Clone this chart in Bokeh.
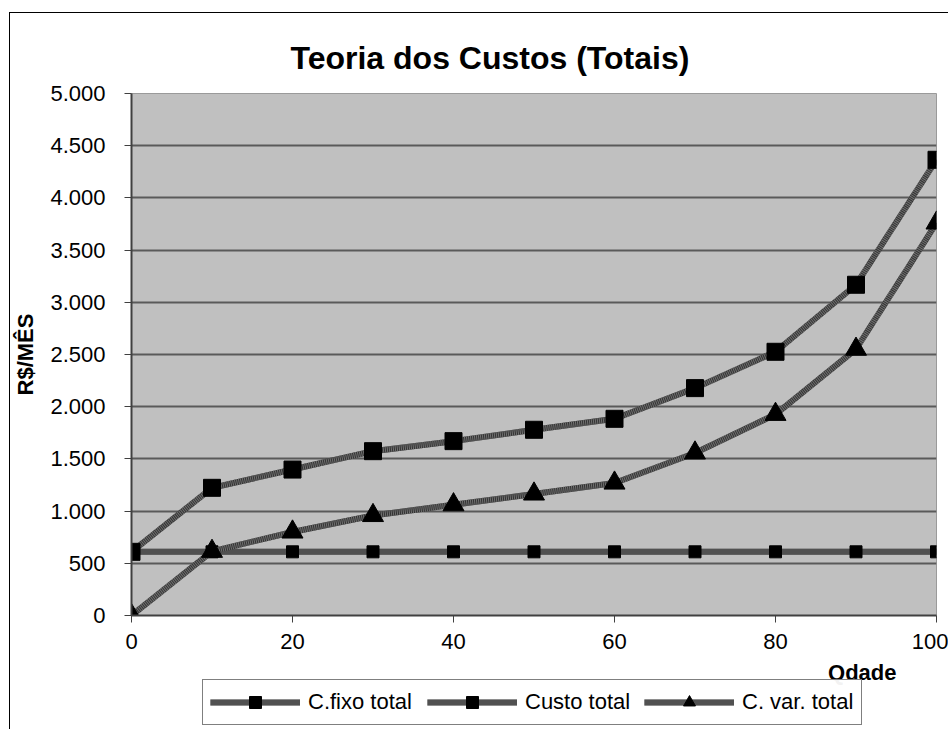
from bokeh.plotting import figure
from bokeh.layouts import column
from bokeh.models import (Legend, LegendItem, Label, FixedTicker, Range1d)
from bokeh.embed import file_html
from bokeh.resources import INLINE

# ---- data ----
qdade = [0, 10, 20, 30, 40, 50, 60, 70, 80, 90, 100]
c_fixo_total = [610, 610, 610, 610, 610, 610, 610, 610, 610, 610, 610]
custo_total = [610, 1223, 1398, 1574, 1670, 1779, 1884, 2178, 2526, 3168, 4365]
c_var_total = [0, 615, 800, 958, 1061, 1164, 1269, 1557, 1927, 2551, 3760]

x_ticks = [0, 20, 40, 60, 80, 100]
y_ticks = [0, 500, 1000, 1500, 2000, 2500, 3000, 3500, 4000, 4500, 5000]
y_tick_labels = ["0", "500", "1.000", "1.500", "2.000", "2.500", "3.000",
                 "3.500", "4.000", "4.500", "5.000"]

title_text = "Teoria dos Custos (Totais)"
y_title = "R$/MÊS"
x_title = "Qdade"
series_names = ["C.fixo total", "Custo total", "C. var. total"]

FONT = "Liberation Sans"
W = 938

# ---------------- main chart ----------------
p = figure(width=W, height=645, output_backend="svg", toolbar_location=None,
           x_range=Range1d(0, 100), y_range=Range1d(0, 5000),
           min_border_left=116, min_border_right=12, min_border_top=80,
           min_border_bottom=43)

p.title.text = title_text
p.title.align = "left"
p.title.offset = 159
p.title.standoff = 36
p.title.text_font = FONT
p.title.text_font_size = "32px"
p.title.text_font_style = "bold"
p.title.text_color = "black"

p.background_fill_color = "#C0C0C0"
p.border_fill_color = "white"
p.outline_line_color = "#9a9a9a"
p.outline_line_width = 1

p.xgrid.visible = False
p.ygrid.ticker = FixedTicker(ticks=y_ticks)
p.ygrid.grid_line_color = "#5a5a5a"
p.ygrid.grid_line_width = 2

for ax in (p.xaxis[0], p.yaxis[0]):
    ax.axis_line_color = "#404040"
    ax.axis_line_width = 2
    ax.major_tick_line_color = "#404040"
    ax.major_tick_line_width = 1
    ax.major_tick_out = 7
    ax.major_tick_in = 0
    ax.minor_tick_line_color = None
    ax.major_label_text_font = FONT
    ax.major_label_text_font_size = "22px"
    ax.major_label_text_color = "black"

p.xaxis.ticker = FixedTicker(ticks=x_ticks)
p.xaxis.major_label_standoff = 11
p.yaxis.ticker = FixedTicker(ticks=y_ticks)
p.yaxis.major_label_overrides = {t: l for t, l in zip(y_ticks, y_tick_labels)}
p.yaxis.major_label_standoff = 19
p.yaxis.axis_label = y_title
p.yaxis.axis_label_text_font = FONT
p.yaxis.axis_label_text_font_size = "22px"
p.yaxis.axis_label_text_font_style = "bold"
p.yaxis.axis_label_text_color = "black"
p.yaxis.axis_label_standoff = 9


def draw_series(fig, ys, marker, size, visible=True):
    base = fig.line(qdade, ys, line_color="#333333", line_width=6, visible=visible)
    stripe = fig.line(qdade, ys, line_color="#707070", line_width=6,
                      line_dash="1 1", visible=visible)
    mk = fig.scatter(qdade, ys, marker=marker, size=size, fill_color="black",
                     line_color="black", visible=visible)
    return [base, stripe, mk]


draw_series(p, c_fixo_total, "square", 12)
draw_series(p, custo_total, "square", 17)
draw_series(p, c_var_total, "triangle", 21)

# ---------------- strip below: x title + legend ----------------
q = figure(width=W, height=71, output_backend="svg", toolbar_location=None,
           x_axis_type=None, y_axis_type=None, title_location=None,
           min_border_left=116, min_border_right=12, min_border_top=0,
           min_border_bottom=0)
q.min_border = 0
q.outline_line_color = None
q.background_fill_color = "white"
q.border_fill_color = "white"
q.xgrid.visible = False
q.ygrid.visible = False

l_fixo = draw_series(q, c_fixo_total, "square", 12, visible=False)
l_total = draw_series(q, custo_total, "square", 17, visible=False)
l_var = draw_series(q, c_var_total, "triangle", 21, visible=False)

legend = Legend(items=[LegendItem(label=series_names[0], renderers=l_fixo),
                       LegendItem(label=series_names[1], renderers=l_total),
                       LegendItem(label=series_names[2], renderers=l_var)],
                orientation="horizontal", location=(71, 4),
                glyph_width=90, glyph_height=30, label_height=30,
                label_width=112, label_standoff=8, spacing=7, padding=7,
                margin=0,
                border_line_color="black", border_line_width=1,
                background_fill_color="white",
                inactive_fill_alpha=0,
                label_text_font=FONT, label_text_font_size="22px",
                label_text_color="black")
q.add_layout(legend)

xlab = Label(x=765, y=57, x_units="screen", y_units="screen", text=x_title,
             text_align="right", text_baseline="alphabetic",
             text_font=FONT, text_font_size="22px", text_font_style="bold",
             text_color="black")
q.add_layout(xlab)

layout = column(p, q, spacing=0)
layout.styles = {"border-left": "1px solid #000000", "border-top": "1px solid #000000",
                 "margin-left": "9px", "margin-top": "12px"}

open("out.html", "w").write(file_html(layout, INLINE))
